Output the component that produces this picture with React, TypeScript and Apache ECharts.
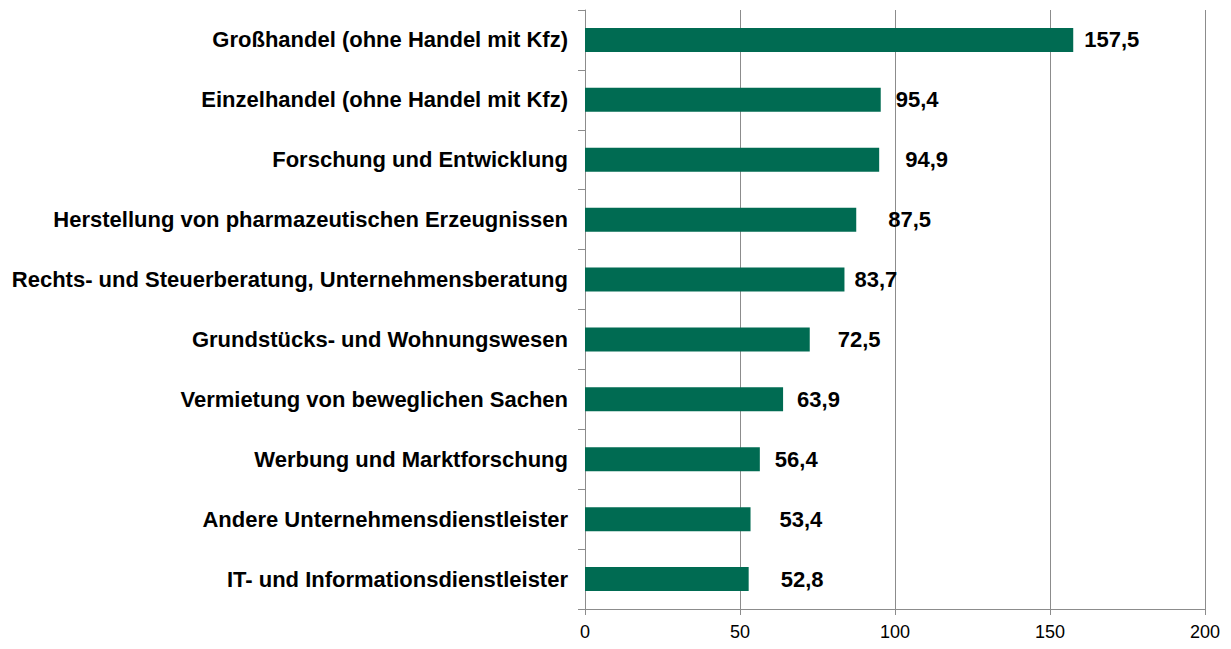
import React, { useEffect, useRef } from "react";
import * as echarts from "echarts";

const categories = [
  "Großhandel (ohne Handel mit Kfz)",
  "Einzelhandel (ohne Handel mit Kfz)",
  "Forschung und Entwicklung",
  "Herstellung von pharmazeutischen Erzeugnissen",
  "Rechts- und Steuerberatung, Unternehmensberatung",
  "Grundstücks- und Wohnungswesen",
  "Vermietung von beweglichen Sachen",
  "Werbung und Marktforschung",
  "Andere Unternehmensdienstleister",
  "IT- und Informationsdienstleister",
];
const values = [157.5, 95.4, 94.9, 87.5, 83.7, 72.5, 63.9, 56.4, 53.4, 52.8];
// label gaps (px) as placed in the reference
const labelGaps = [11, 15, 26, 32, 10, 28, 14, 15, 29, 32];

const xTicks = [0, 50, 100, 150, 200];

export default function App() {
  const ref = useRef<HTMLDivElement>(null);
  useEffect(() => {
    if (!ref.current) return;
    const chart = echarts.init(ref.current, undefined, { renderer: "svg" });
    const font = "'Liberation Sans', Arial, sans-serif";
    chart.setOption({
      animation: false,
      grid: { left: 577, width: 621, top: 2, height: 607, containLabel: false },
      xAxis: {
        type: "value",
        min: xTicks[0],
        max: xTicks[xTicks.length - 1],
        interval: 50,
        axisLine: { show: true, lineStyle: { color: "#8c8c8c", width: 1 } },
        axisTick: { show: true, length: 6, lineStyle: { color: "#8c8c8c" } },
        axisLabel: { color: "#000", fontSize: 18, fontFamily: font, margin: 14 },
        splitLine: { show: true, lineStyle: { color: "#8c8c8c", width: 1 } },
      },
      yAxis: {
        type: "category",
        data: categories,
        inverse: true,
        axisLine: { show: true, lineStyle: { color: "#8c8c8c", width: 1 } },
        axisTick: { show: true, length: 7, lineStyle: { color: "#8c8c8c" } },
        axisLabel: {
          color: "#000",
          fontSize: 22,
          fontWeight: "bold",
          fontFamily: font,
          margin: 17,
        },
      },
      series: [
        {
          type: "bar",
          data: values.map((v, i) => ({
            value: v,
            label: { distance: labelGaps[i] },
          })),
          barWidth: 24,
          itemStyle: { color: "#006B52" },
          label: {
            show: true,
            position: "right",
            color: "#000",
            fontSize: 22,
            fontWeight: "bold",
            fontFamily: font,
            formatter: (p: any) => String(p.value.toFixed(1)).replace(".", ","),
          },
        },
      ],
    });
    return () => chart.dispose();
  }, []);
  return <div ref={ref} style={{ width: 1215, height: 633 }} />;
}
